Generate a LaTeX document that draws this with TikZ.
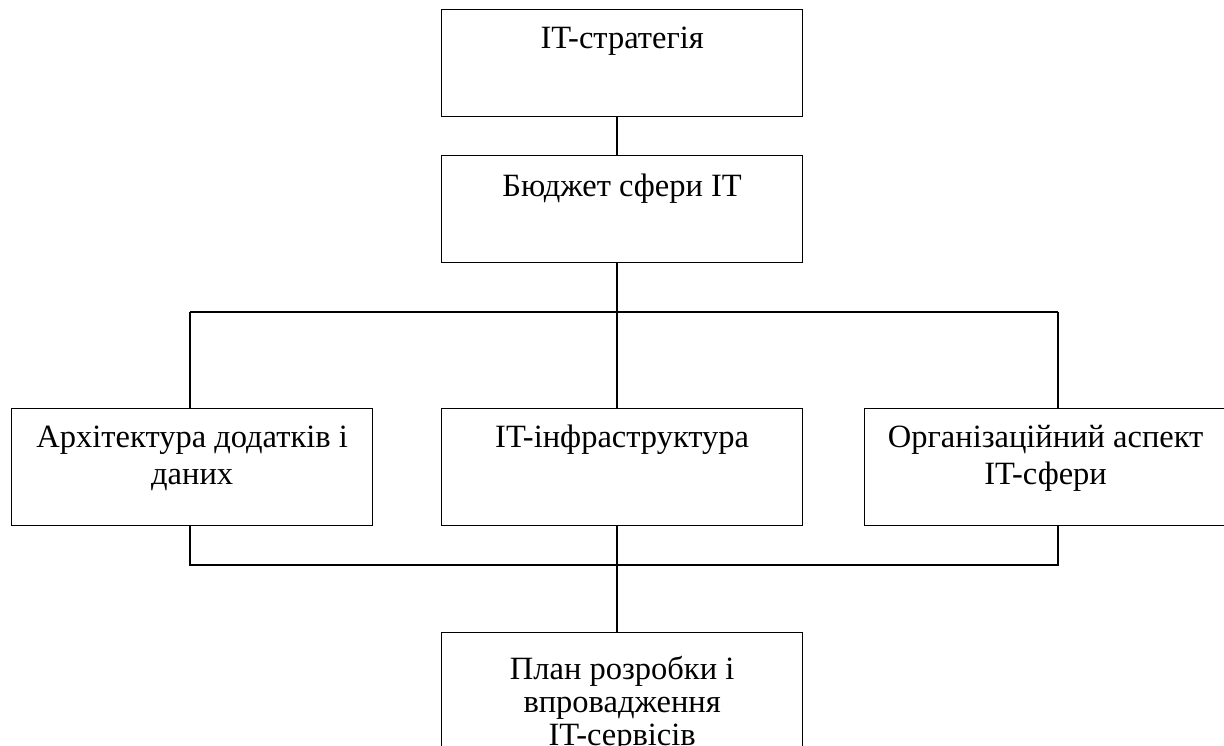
\documentclass[tikz,border=0pt]{standalone}
\usepackage{fontspec}
\setmainfont{Liberation Serif}
\begin{document}
\begin{tikzpicture}[x=1pt,y=-1pt,line width=1.3pt,
  box/.style={draw,line width=1.3pt,minimum width=361pt,minimum height=107pt,inner sep=0pt,anchor=north west},
  txt/.style={anchor=north,inner sep=0pt,align=center,font=\fontsize{32.5}{37}\selectfont}]
\useasboundingbox (0,0) rectangle (1224,746);
% boxes
\node[box] (strat) at (441,9) {};
\node[box] (budget) at (441,155) {};
\node[box,minimum height=117pt] (arch) at (11,408) {};
\node[box,minimum height=117pt] (infra) at (441,408) {};
\node[box,minimum height=117pt,minimum width=362pt] (org) at (864,408) {};
\node[box,minimum height=140pt] (plan) at (441,632) {};
% texts
\node[txt] (strat-t) at ([yshift=-13.1pt]strat.north) {\strut IT-стратегія};
\node[txt] (budget-t) at ([yshift=-15.1pt]budget.north) {\strut Бюджет сфери IT};
\node[txt] (arch-t) at ([yshift=-13.1pt]arch.north) {\strut Архітектура додатків і\\даних};
\node[txt] (infra-t) at ([yshift=-13.1pt]infra.north) {\strut IT-інфраструктура};
\node[txt] (org-t) at ([yshift=-13.1pt]org.north) {\strut Організаційний аспект\\IT-сфери};
\node[txt,font=\fontsize{32.5}{33}\selectfont] (plan-t) at ([yshift=-23.9pt]plan.north) {\strut План розробки і\\впровадження\\IT-сервісів};
% guide coordinates
\coordinate (cx) at (617,0);
\coordinate (lx) at (190,0);
\coordinate (rx) at (1058,0);
\coordinate (bus1) at (0,312);
\coordinate (bus2) at (0,565);
% connectors
\draw (strat.south -| cx) -- (budget.north -| cx);
\draw (budget.south -| cx) -- (infra.north -| cx);
\draw (lx |- bus1) -- (rx |- bus1);
\draw (lx |- bus1) -- (arch.north -| lx);
\draw (rx |- bus1) -- (org.north -| rx);
\draw (infra.south -| cx) -- (plan.north -| cx);
\draw (arch.south -| lx) -- (lx |- bus2) -- (rx |- bus2) -- (org.south -| rx);
\end{tikzpicture}
\end{document}
